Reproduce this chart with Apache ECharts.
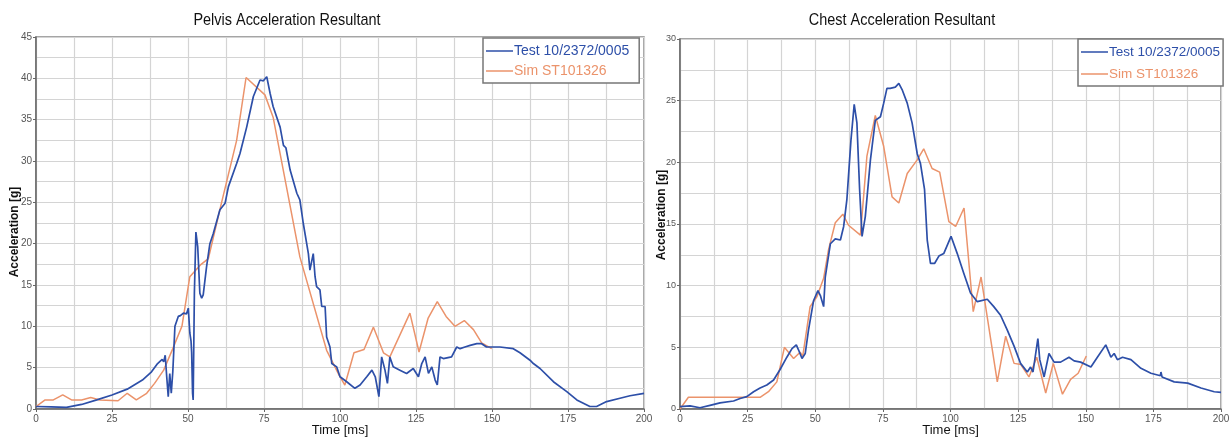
<!DOCTYPE html>
<html>
<head>
<meta charset="utf-8">
<script src="https://cdn.jsdelivr.net/npm/echarts@6/dist/echarts.min.js"></script>
<style>
html,body{margin:0;padding:0;background:#fff;}
#c{width:1232px;height:439px;}
</style>
</head>
<body>
<div id="c"></div>
<script>
// ---- data ----
const xTicks = [0, 25, 50, 75, 100, 125, 150, 175, 200];
const seriesNames = ['Test 10/2372/0005', 'Sim ST101326'];
const pelvisTitle = 'Pelvis Acceleration Resultant';
const chestTitle = 'Chest Acceleration Resultant';

const pelvisTest = [[0,0.3],[5,0.25],[10,0.2],[15,0.55],[20,1.1],[25,1.7],[30,2.4],[35,3.5],[38,4.5],[40,5.5],[41.5,6.0],[42,5.7],[42.5,6.5],[43,3.9],[43.5,1.5],[44,4.3],[44.5,1.9],[45,4.5],[45.7,10],[46.8,11.2],[47.5,11.3],[48.5,11.6],[49.5,11.5],[50.1,12.2],[50.6,9.2],[51,8.2],[51.2,6.8],[51.5,1.9],[51.7,1.1],[52.1,14],[52.6,21.4],[53.2,19.6],[53.9,14],[54.5,13.4],[55,13.8],[56.1,17.2],[57.2,20],[58.3,21.2],[60.5,24.1],[62.2,24.9],[63.3,26.9],[66,29.7],[67.1,30.9],[69.3,34.1],[71.5,37.8],[73.7,39.8],[74.8,39.7],[75.9,40.2],[77,38.2],[78,36.6],[80.3,34.1],[81.4,31.9],[82.2,31.6],[83.6,28.9],[85.8,26.1],[86.8,25.3],[87.9,22.5],[89.6,18.8],[90.1,16.8],[91.2,18.8],[91.8,16],[92.3,14.8],[93.4,14.4],[94,12.4],[95.1,12.4],[95.6,8.7],[96.7,7.5],[97.3,5.5],[98.9,5.1],[100,3.9],[102.2,3.3],[104.9,2.5],[106.6,2.9],[108.8,3.9],[110.5,4.7],[111.6,3.9],[112.8,1.5],[113.7,6.3],[114.8,4.7],[115.6,3.1],[116.4,6.3],[117.5,5.1],[119.7,4.7],[121.9,4.3],[124.1,4.9],[125.8,3.9],[126.9,5.5],[128,6.3],[129.1,4.3],[130.2,5.1],[131.3,3.5],[132,2.9],[132.9,6.3],[134,6.1],[136.7,6.3],[138.4,7.5],[139.5,7.3],[141.1,7.5],[142.8,7.7],[145,7.9],[146.6,7.9],[148.2,7.5],[152.6,7.5],[157,7.3],[159.2,6.8],[162.5,5.9],[163.6,5.5],[165.8,4.9],[170.2,3.3],[174.6,2.1],[177.9,1.1],[182.2,0.3],[184.4,0.3],[187.7,0.9],[192.1,1.3],[195.4,1.6],[200,1.9]];

const pelvisSim = [[0,0.3],[3,1.1],[5.7,1.1],[8.8,1.7],[11.7,1.1],[15,1.1],[18,1.4],[21,1.1],[27,1.0],[30,1.9],[33,1.1],[36.4,1.9],[39,3.1],[42,4.7],[45,7.3],[48,10],[50.6,16],[54,17.4],[56.7,18.2],[61,24.9],[66,32.5],[69.1,40.1],[75.3,38.0],[78,35.3],[86.8,18.4],[95.6,7.1],[99.7,4.1],[101.6,2.9],[104.6,6.8],[107.9,7.2],[111,9.9],[114.3,6.8],[116.4,6.3],[123,11.6],[126,6.9],[129,11.0],[132,13.0],[134.9,11.2],[137.8,10.0],[140.9,10.7],[143.9,9.6],[146.6,8.0],[149.9,7.3]];

const chestTest = [[0,0.2],[3.7,0.25],[7.4,0.1],[11.1,0.3],[14.8,0.5],[19.8,0.65],[22.2,0.85],[24.7,1.0],[27.2,1.4],[29.6,1.7],[32.1,1.95],[34.6,2.35],[37,3.2],[39.5,4.2],[41.4,4.9],[43,5.2],[43.8,4.8],[45.1,4.1],[46.3,4.5],[47.5,6.4],[49.4,8.8],[51,9.6],[51.9,9.2],[53.1,8.3],[53.7,10.7],[55.6,13.4],[57.4,13.8],[59.3,13.7],[60.5,14.8],[61.7,17],[63.2,21.8],[64.4,24.7],[65.4,23.2],[66.4,17.8],[67.3,14],[68.5,15.6],[70.4,20.2],[72.2,23.4],[74.1,23.7],[75.3,24.8],[76.5,26.0],[77.7,26.0],[79.6,26.1],[80.9,26.4],[82.1,25.9],[84,24.8],[85.8,23.2],[87.7,20.7],[88.9,19.9],[90.4,17.8],[91.4,13.7],[92.6,11.8],[94.1,11.8],[95.7,12.4],[97.5,12.6],[100.2,14.0],[102.5,12.6],[104.9,11.0],[107.4,9.4],[109.9,8.7],[113.6,8.9],[116,8.3],[118.5,7.6],[121,6.4],[123.5,5.1],[125.9,3.7],[128.4,3.0],[129.6,3.4],[130.5,3.0],[132.3,5.7],[133,4.0],[134.6,2.6],[136.4,4.5],[138.3,3.8],[140.7,3.8],[143.8,4.2],[145.7,3.9],[148.1,3.8],[151.9,3.4],[154.3,4.2],[157.4,5.2],[159.3,4.2],[160.5,4.5],[161.7,4.0],[163.6,4.2],[166.7,4.0],[170.4,3.3],[174.1,2.9],[177.6,2.7],[177.8,3.0],[178.2,2.6],[182.7,2.2],[187.7,2.1],[192.6,1.7],[197.5,1.4],[200,1.35]];

const chestSim = [[0,0],[3.1,0.95],[29.6,0.95],[32.7,1.4],[35.8,2.2],[38.6,5.0],[42,4.1],[44.4,4.6],[45.4,4.3],[48.1,8.3],[50.6,9.1],[53.1,10.6],[54.9,12.9],[57.4,15.1],[60.2,15.8],[62.3,14.9],[66.7,14.1],[69.1,20.5],[72.2,23.8],[75.3,21.3],[78.4,17.2],[80.9,16.7],[84,19.1],[87.7,20.2],[90.1,21.1],[93.2,19.5],[96,19.2],[99.4,15.2],[101.9,14.8],[105,16.3],[108.4,7.9],[111.3,10.7],[117.3,2.2],[120.4,5.9],[123.5,3.7],[126,3.6],[129,2.6],[131.9,4.2],[135.2,1.3],[138,3.7],[141.4,1.2],[144.4,2.4],[147.2,2.9],[150.2,4.3]];

// ---- styling ----
const BLUE = '#2d4fa8';
const ORANGE = '#eb936b';
const GRIDC = '#d4d4d4';
const SANS = '"Liberation Sans", Arial, sans-serif';

function xAxisCfg(gi, fs) {
  return {
    type: 'value', gridIndex: gi, min: 0, max: 200, interval: 25,
    name: 'Time [ms]', nameLocation: 'middle', nameGap: 15, nameMoveOverlap: false,
    nameTextStyle: { fontFamily: SANS, fontSize: 13, color: '#111' },
    axisLine: { show: true, onZero: false, lineStyle: { color: '#666', width: 1.5 } },
    axisTick: { show: true, length: 3, lineStyle: { color: '#666' } },
    axisLabel: { fontFamily: SANS, fontSize: fs, color: '#555', margin: 5 },
    splitLine: { show: true, lineStyle: { color: GRIDC, width: 1.2 } },
    minorTick: { show: false, splitNumber: 2 },
    minorSplitLine: { show: true, lineStyle: { color: GRIDC, width: 1.2 } }
  };
}
function yAxisCfg(gi, max, fs, gap, pad) {
  return {
    type: 'value', gridIndex: gi, min: 0, max: max, interval: 5,
    name: 'Acceleration [g]', nameLocation: 'middle', nameGap: gap, nameRotate: 90, nameMoveOverlap: false,
    nameTextStyle: { fontFamily: SANS, fontSize: 12, fontWeight: 'bold', color: '#111', padding: pad },
    axisLine: { show: true, lineStyle: { color: '#666', width: 1.5 } },
    axisTick: { show: true, length: 3, lineStyle: { color: '#666' } },
    axisLabel: { fontFamily: SANS, fontSize: fs, color: '#555', margin: 4 },
    splitLine: { show: true, lineStyle: { color: GRIDC, width: 1.2 } },
    minorTick: { show: false, splitNumber: 2 },
    minorSplitLine: { show: true, lineStyle: { color: GRIDC, width: 1.2 } }
  };
}
function legendCfg(left, top, fs, gap, pad) {
  return {
    orient: 'vertical', left: left, top: top,
    backgroundColor: '#fff', borderColor: '#777', borderWidth: 1.5,
    padding: pad, itemGap: gap, itemWidth: 27, itemHeight: 1.5, icon: 'rect',
    textStyle: { fontFamily: SANS, fontSize: fs, padding: [0, 0, 0, -4] },
    data: [
      { name: seriesNames[0], textStyle: { color: BLUE } },
      { name: seriesNames[1], textStyle: { color: ORANGE } }
    ]
  };
}
function lineSeries(name, data, gi, color, w) {
  return {
    name: name, type: 'line', xAxisIndex: gi, yAxisIndex: gi, data: data,
    showSymbol: false, symbol: 'none', animation: false,
    lineStyle: { color: color, width: w }, itemStyle: { color: color }
  };
}

const option = {
  animation: false,
  backgroundColor: '#fff',
  graphic: [
    { type: 'text', x: 287, y: 20, scaleX: 0.85, style: { text: pelvisTitle, fontFamily: SANS, fontSize: 17, fill: '#111', textAlign: 'center', textVerticalAlign: 'middle' } },
    { type: 'text', x: 902, y: 20, scaleX: 0.85, style: { text: chestTitle, fontFamily: SANS, fontSize: 17, fill: '#111', textAlign: 'center', textVerticalAlign: 'middle' } }
  ],
  grid: [
    { left: 36, right: 588, top: 37, bottom: 30, show: true, borderColor: '#888', borderWidth: 1.5, backgroundColor: 'transparent', containLabel: false, outerBoundsMode: 'none' },
    { left: 680, right: 11, top: 39, bottom: 30, show: true, borderColor: '#888', borderWidth: 1.5, backgroundColor: 'transparent', containLabel: false, outerBoundsMode: 'none' }
  ],
  xAxis: [xAxisCfg(0, 10), xAxisCfg(1, 10)],
  yAxis: [yAxisCfg(0, 45, 10, 15, [0, 18, 0, 0]), yAxisCfg(1, 30, 9, 12, [0, 0, 0, 18])],
  legend: [legendCfg(483, 38, 14, 6, [6, 10, 5, 3]), legendCfg(1078, 39, 13.5, 8, [6, 3, 5, 3])],
  series: [
    lineSeries(seriesNames[1], pelvisSim, 0, ORANGE, 1.5),
    lineSeries(seriesNames[0], pelvisTest, 0, BLUE, 1.7),
    lineSeries(seriesNames[1], chestSim, 1, ORANGE, 1.5),
    lineSeries(seriesNames[0], chestTest, 1, BLUE, 1.7)
  ]
};

const chart = echarts.init(document.getElementById('c'), null, { renderer: 'canvas' });
chart.setOption(option);
</script>
</body>
</html>
